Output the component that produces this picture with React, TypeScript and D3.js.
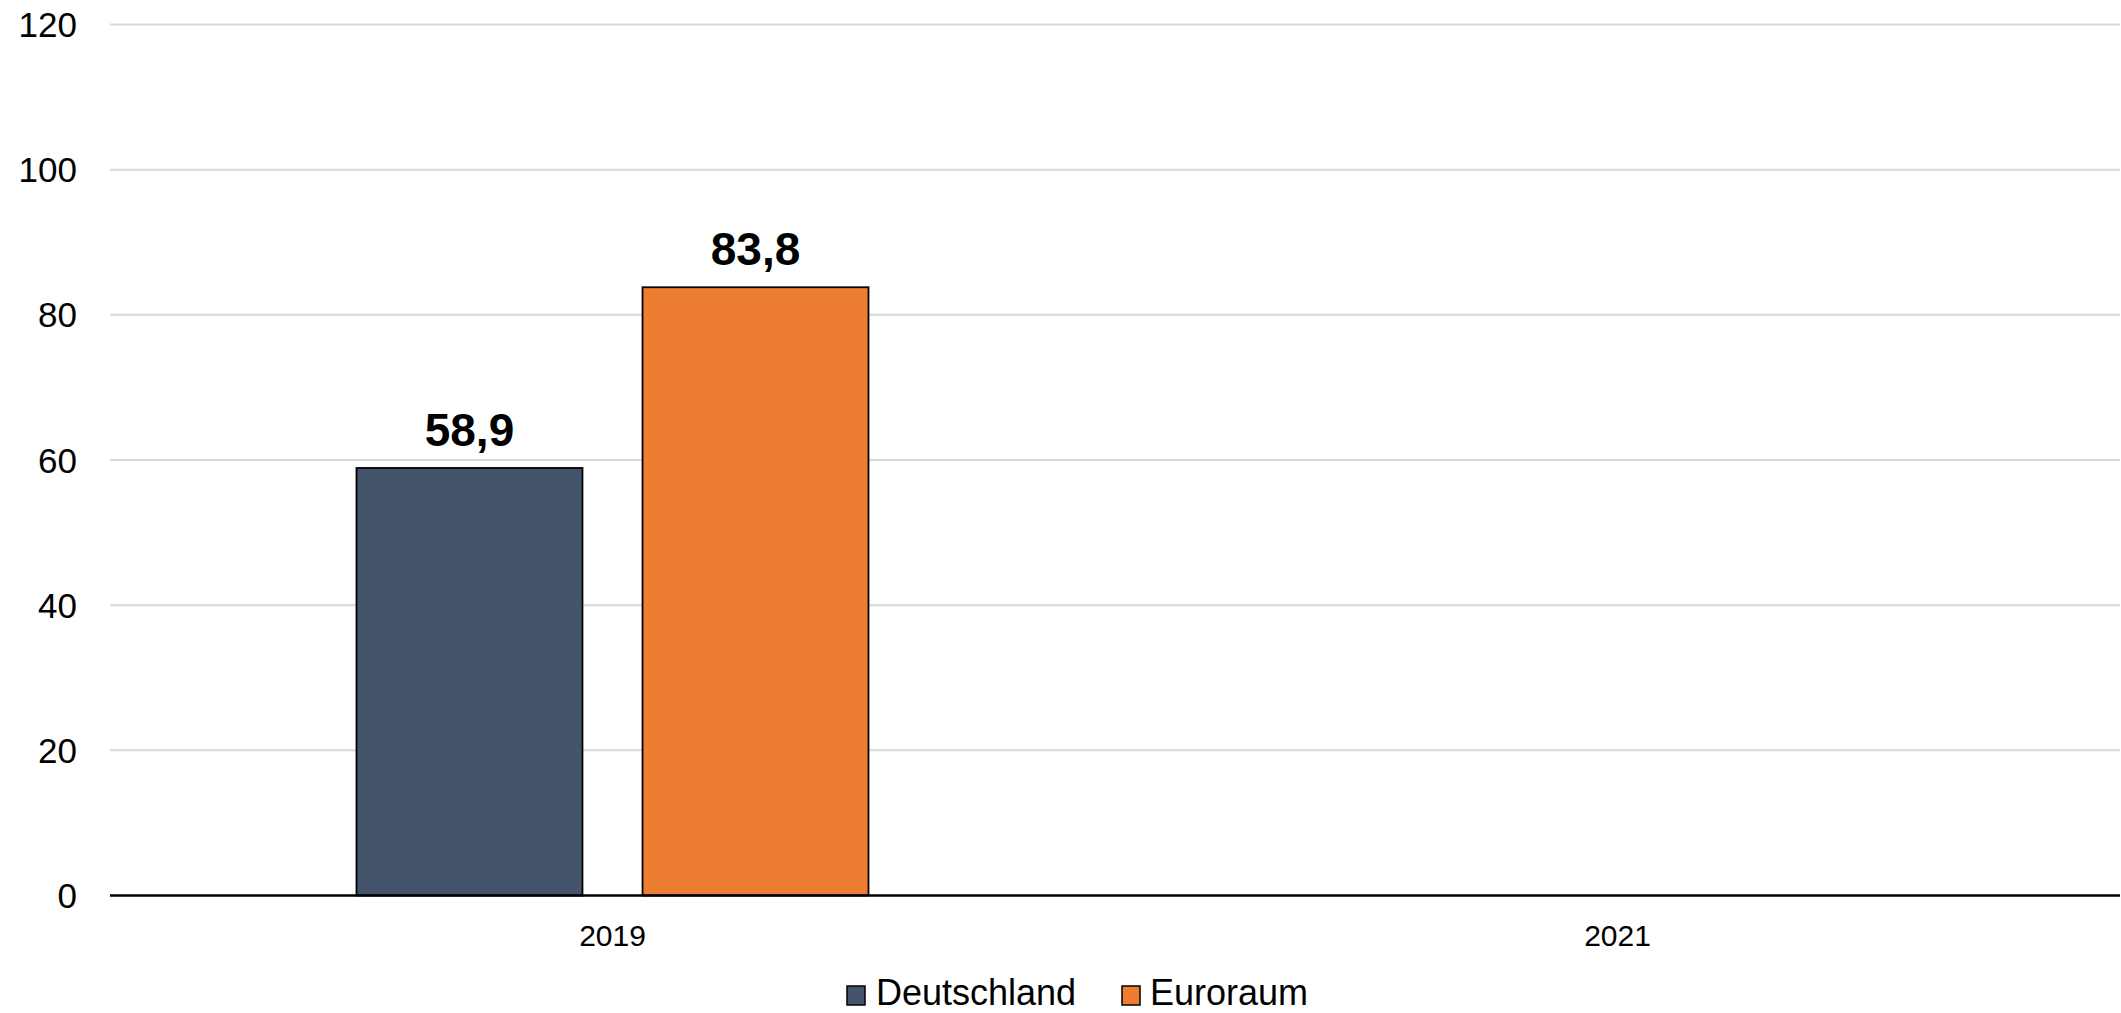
import React from "react";
import * as d3 from "d3";

const categories = ["2019", "2021"];
const seriesNames = ["Deutschland", "Euroraum"];
const deutschland = [58.9, null];
const euroraum = [83.8, null];
const yTicks = [0, 20, 40, 60, 80, 100, 120];
const colors = ["#44546A", "#ED7D31"];

const W = 2121;
const H = 1013;
const M = { left: 110, right: 2120, top: 24.5, bottom: 895.5 };

export default function App() {
  const x = d3.scaleBand<string>().domain(categories).range([M.left, M.right]).paddingInner(0).paddingOuter(0);
  const y = d3.scaleLinear().domain([0, 120]).range([M.bottom, M.top]);
  const xs = d3.scaleBand<string>().domain(seriesNames).range([-256, 256]).paddingInner(0.21).paddingOuter(0);
  const series = [deutschland, euroraum];
  const fmt = (v: number) => d3.format(".1f")(v).replace(".", ",");
  const font = "Arial, 'Liberation Sans', sans-serif";

  const legendItems = [
    { name: seriesNames[0], color: colors[0], sx: 847, tx: 876 },
    { name: seriesNames[1], color: colors[1], sx: 1122, tx: 1150 },
  ];

  return (
    <svg width={W} height={H} style={{ position: "absolute", left: 0, top: 0 }} fontFamily={font}>
      <rect width={W} height={H} fill="#fff" />
      {yTicks.map((t) => (
        <g key={t}>
          {t !== 0 && (
            <line x1={M.left} x2={M.right} y1={y(t)} y2={y(t)} stroke="#d9d9d9" strokeWidth={2} />
          )}
          <text x={77} y={y(t)} dy="0.36em" textAnchor="end" fontSize={35} fill="#000">
            {t}
          </text>
        </g>
      ))}
      {categories.map((c, ci) =>
        series.map((s, si) => {
          const v = s[ci];
          if (v == null) return null;
          const bx = (x(c) as number) + x.bandwidth() / 2 + (xs(seriesNames[si]) as number);
          const bw = xs.bandwidth();
          return (
            <g key={c + si}>
              <rect x={bx} y={y(v)} width={bw} height={y(0) - y(v)} fill={colors[si]} stroke="#000" strokeWidth={1.8} />
              <text x={bx + bw / 2} y={y(v) - 22} textAnchor="middle" fontSize={46} fontWeight="bold" fill="#000">
                {fmt(v)}
              </text>
            </g>
          );
        })
      )}
      <line x1={M.left} x2={M.right} y1={y(0)} y2={y(0)} stroke="#000" strokeWidth={2.5} />
      {categories.map((c) => (
        <text key={c} x={(x(c) as number) + x.bandwidth() / 2} y={946} textAnchor="middle" fontSize={30} fill="#000">
          {c}
        </text>
      ))}
      {legendItems.map((l) => (
        <g key={l.name}>
          <rect x={l.sx} y={986} width={18} height={19} fill={l.color} stroke="#000" strokeWidth={1.5} />
          <text x={l.tx} y={1005} fontSize={36} fill="#000">
            {l.name}
          </text>
        </g>
      ))}
    </svg>
  );
}
